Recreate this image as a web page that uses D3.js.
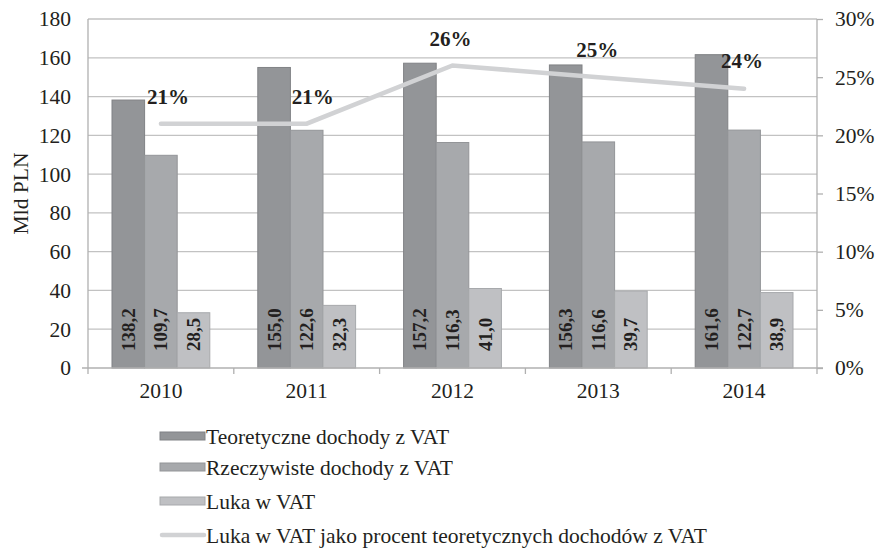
<!DOCTYPE html>
<html>
<head>
<meta charset="utf-8">
<script src="https://cdn.jsdelivr.net/npm/d3@7"></script>
<style>
  body { margin: 0; background: #fff; }
  svg text { font-family: "Liberation Serif", "Times New Roman", "DejaVu Serif", serif !important; }
</style>
</head>
<body>
<svg id="chart" width="876" height="552"></svg>
<script>
var years = ["2010", "2011", "2012", "2013", "2014"];
var teoretyczne = [138.2, 155.0, 157.2, 156.3, 161.6];
var rzeczywiste = [109.7, 122.6, 116.3, 116.6, 122.7];
var luka = [28.5, 32.3, 41.0, 39.7, 38.9];
var lukaProcent = [0.21, 0.21, 0.26, 0.25, 0.24];
var leftTicks = [0, 20, 40, 60, 80, 100, 120, 140, 160, 180];
var rightTicks = [0, 0.05, 0.10, 0.15, 0.20, 0.25, 0.30];
var seriesNames = ["Teoretyczne dochody z VAT", "Rzeczywiste dochody z VAT", "Luka w VAT",
                   "Luka w VAT jako procent teoretycznych dochodów z VAT"];

var svg = d3.select("#chart");
var plotL = 88, plotR = 817, plotT = 19, plotB = 368;
var fs = "21.5px";

var x = d3.scaleBand().domain(years).range([plotL, plotR]);
var y = d3.scaleLinear().domain([0, 180]).range([plotB, plotT]);
var y2 = d3.scaleLinear().domain([0, 0.30]).range([plotB, plotT]);

var barW = 32.6;
var barColors = ["#939598", "#a7a9ac", "#bfc0c3"];
var barStroke = ["#808285", "#939598", "#a7a9ac"];
var series = [teoretyczne, rzeczywiste, luka];

// gridlines
svg.append("g").selectAll("line")
  .data(leftTicks.slice(1))
  .enter().append("line")
    .attr("x1", plotL).attr("x2", plotR)
    .attr("y1", d => y(d)).attr("y2", d => y(d))
    .attr("stroke", "#c2c2c2").attr("stroke-width", 1.3);

// bars
series.forEach((vals, si) => {
  svg.append("g").selectAll("rect")
    .data(vals)
    .enter().append("rect")
      .attr("x", (d, i) => x(years[i]) + x.bandwidth() / 2 - 1.5 * barW + si * barW)
      .attr("y", d => y(d))
      .attr("width", barW)
      .attr("height", d => plotB - y(d))
      .attr("fill", barColors[si])
      .attr("stroke", barStroke[si])
      .attr("stroke-width", 1);
  svg.append("g").selectAll("text")
    .data(vals)
    .enter().append("text")
      .attr("transform", (d, i) => {
        var cx = x(years[i]) + x.bandwidth() / 2 - barW + si * barW;
        return "translate(" + (cx + 6.5) + "," + (plotB - 17) + ") rotate(-90)";
      })
      .attr("font-size", "19px")
      .attr("font-weight", "bold")
      .attr("fill", "#231f20")
      .text(d => d3.format(".1f")(d).replace(".", ","));
});

// left axis
var yAxis = d3.axisLeft(y).tickValues(leftTicks).tickSize(6).tickFormat(d3.format("d"));
var gl = svg.append("g").attr("transform", "translate(" + plotL + ",0)").call(yAxis);
gl.select(".domain").remove();
gl.selectAll(".tick line").attr("stroke", "none");
gl.selectAll("text").attr("font-size", fs).attr("fill", "#231f20").attr("x", -17);
svg.append("line").attr("x1", plotL).attr("x2", plotL).attr("y1", plotT).attr("y2", plotB)
  .attr("stroke", "#b0b0b0").attr("stroke-width", 1.3);

// right axis
var yAxis2 = d3.axisRight(y2).tickValues(rightTicks).tickSize(6).tickFormat(d3.format(".0%"));
var gr = svg.append("g").attr("transform", "translate(" + plotR + ",0)").call(yAxis2);
gr.select(".domain").attr("stroke", "#b0b0b0").attr("stroke-width", 1.3).attr("d", "M0," + plotT + "V" + plotB);
gr.selectAll(".tick line").attr("stroke", "#b0b0b0").attr("stroke-width", 1.3);
gr.selectAll("text").attr("font-size", fs).attr("fill", "#231f20").attr("x", 18);

// x axis
var xAxis = d3.axisBottom(x).tickSize(0);
var gx = svg.append("g").attr("transform", "translate(0," + plotB + ")").call(xAxis);
gx.select(".domain").remove();
gx.selectAll("text").attr("font-size", fs).attr("fill", "#231f20").attr("dy", "27px");
svg.append("line").attr("x1", plotL - 6).attr("x2", plotR + 6).attr("y1", plotB).attr("y2", plotB)
  .attr("stroke", "#b0b0b0").attr("stroke-width", 1.3);
svg.append("g").selectAll("line")
  .data(years.concat(["end"]))
  .enter().append("line")
    .attr("x1", (d, i) => plotL + i * x.bandwidth())
    .attr("x2", (d, i) => plotL + i * x.bandwidth())
    .attr("y1", plotB).attr("y2", plotB + 6)
    .attr("stroke", "#b0b0b0").attr("stroke-width", 1.3);

// y axis title
svg.append("text")
  .attr("transform", "translate(28," + ((plotT + plotB) / 2) + ") rotate(-90)")
  .attr("text-anchor", "middle")
  .attr("font-size", fs).attr("fill", "#231f20")
  .text("Mld PLN");

// percentage line
var line = d3.line()
  .x((d, i) => x(years[i]) + x.bandwidth() / 2)
  .y(d => y2(d));
svg.append("path")
  .datum(lukaProcent)
  .attr("d", line)
  .attr("fill", "none")
  .attr("stroke", "#d1d2d4")
  .attr("stroke-width", 4.5)
  .attr("stroke-linecap", "round");

var labelDx = [7, 6, -2, -1, -2];
var labelDy = [-20, -20, -20, -20, -21];
svg.append("g").selectAll("text")
  .data(lukaProcent)
  .enter().append("text")
    .attr("x", (d, i) => x(years[i]) + x.bandwidth() / 2 + labelDx[i])
    .attr("y", (d, i) => y2(d) + labelDy[i])
    .attr("text-anchor", "middle")
    .attr("font-size", "21px").attr("font-weight", "bold").attr("fill", "#231f20")
    .text(d => d3.format(".0%")(d));

// legend
var legendY = [436, 467, 501, 535];
var lg = svg.append("g");
seriesNames.forEach((name, i) => {
  if (i < 3) {
    lg.append("rect").attr("x", 160).attr("y", legendY[i] - 4).attr("width", 45).attr("height", 8)
      .attr("fill", barColors[i]).attr("stroke", barStroke[i]).attr("stroke-width", 1);
  } else {
    lg.append("line").attr("x1", 162).attr("x2", 204).attr("y1", legendY[i]).attr("y2", legendY[i])
      .attr("stroke", "#d1d2d4").attr("stroke-width", 4.5).attr("stroke-linecap", "round");
  }
  lg.append("text").attr("x", 206).attr("y", legendY[i]).attr("dy", "0.35em")
    .attr("font-size", fs).attr("fill", "#231f20").text(name);
});
</script>
</body>
</html>
